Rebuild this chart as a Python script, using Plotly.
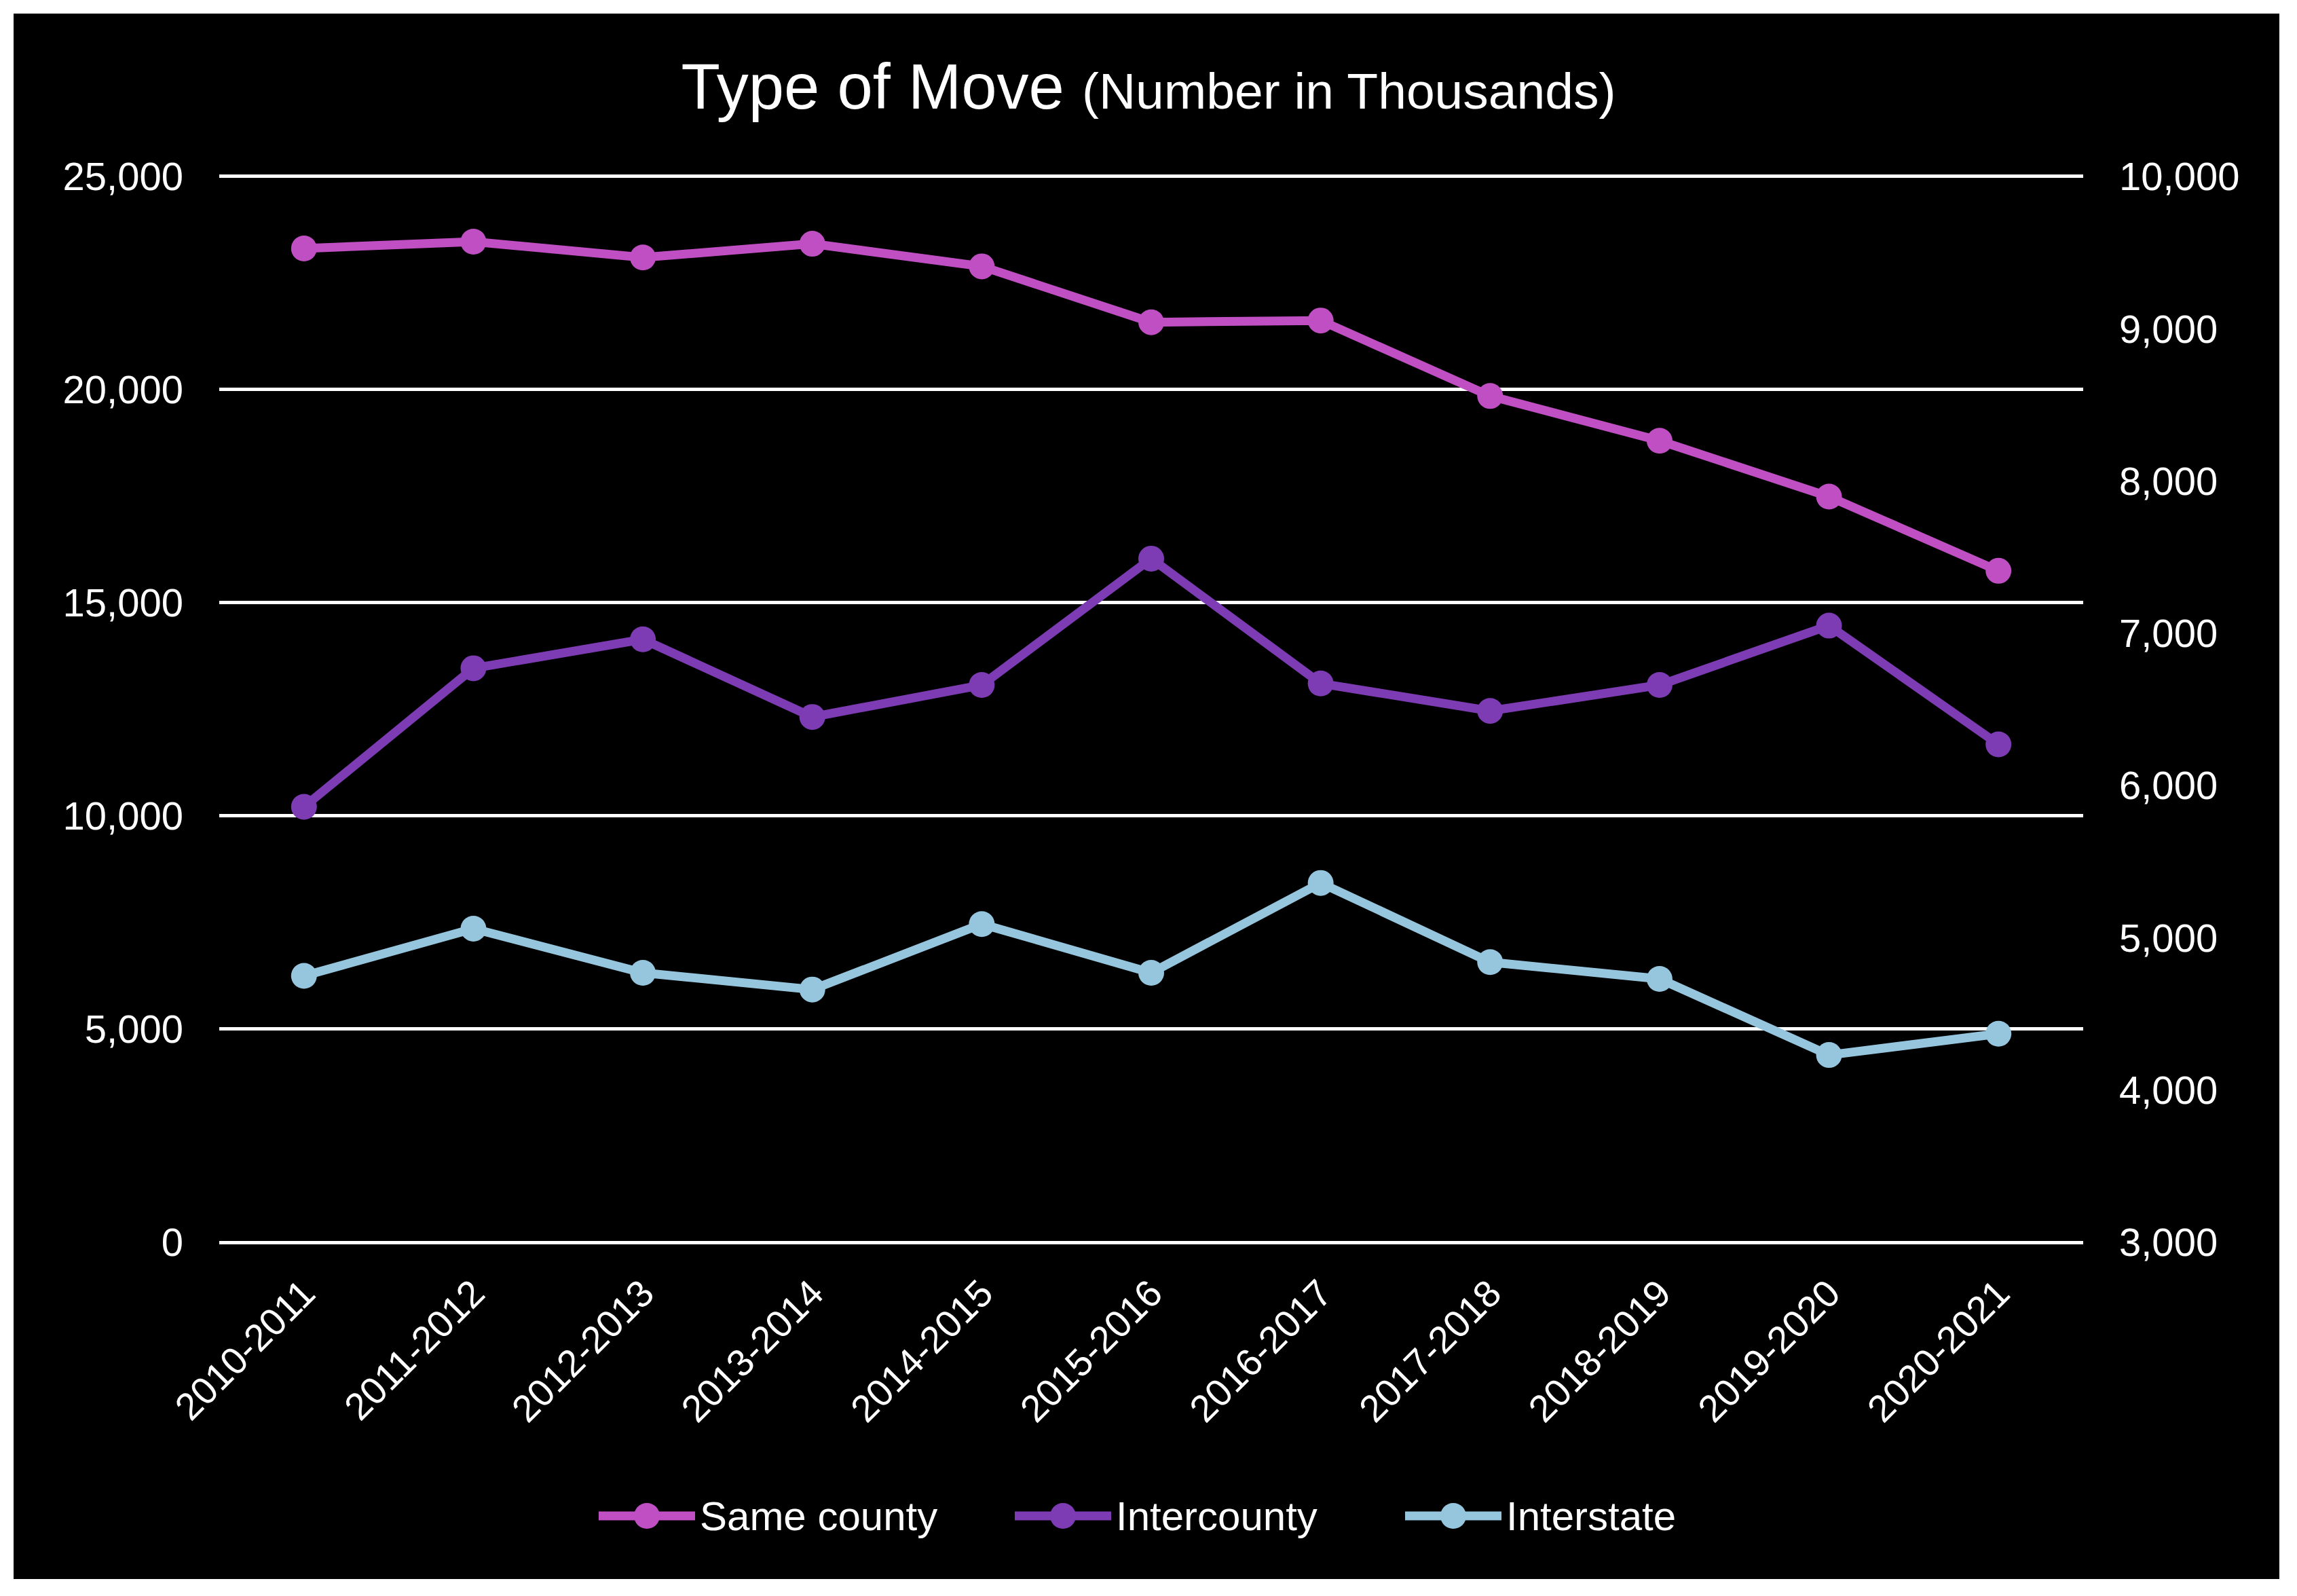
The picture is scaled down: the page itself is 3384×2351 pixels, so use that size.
import plotly.graph_objects as go

# ---- data (values in thousands) ----
categories = ["2010-2011", "2011-2012", "2012-2013", "2013-2014", "2014-2015",
              "2015-2016", "2016-2017", "2017-2018", "2018-2019", "2019-2020", "2020-2021"]
same_county = [23310, 23470, 23100, 23420, 22890, 21580, 21620, 19850, 18800, 17490, 15750]
intercounty = [5860, 6770, 6960, 6450, 6660, 7490, 6670, 6490, 6660, 7050, 6270]
interstate = [4750, 5060, 4770, 4660, 5090, 4770, 5360, 4840, 4730, 4230, 4370]
series_names = ["Same county", "Intercounty", "Interstate"]
left_ticks = [0, 5000, 10000, 15000, 20000, 25000]
right_ticks = [3000, 4000, 5000, 6000, 7000, 8000, 9000, 10000]

colors = ["#C04FC4", "#7D3BB4", "#96C6DE"]
FONT = "Liberation Sans"

W, H = 3384, 2351
ML, MR, MT, MB = 323, 315, 258, 521
PW, PH = W - ML - MR, H - MT - MB

# small headroom so the top gridline (25,000 / 10,000) is drawn
HEAD = 1.0012
left_range = [0, 25000 * HEAD]
right_range = [3000, 3000 + 7000 * HEAD]


def px_to_paper_x(px):
    return (px - ML) / PW


def px_to_paper_y(py):
    return 1 - (py - MT) / PH


fig = go.Figure()
for name, vals, col, ax in zip(series_names, [same_county, intercounty, interstate],
                               colors, ["y", "y2", "y2"]):
    fig.add_trace(go.Scatter(
        x=categories, y=vals, name=name, yaxis=ax, mode="lines+markers",
        line=dict(color=col, width=13),
        marker=dict(color=col, size=38, line=dict(width=0)),
        showlegend=False, cliponaxis=False,
    ))

shapes = [dict(type="rect", xref="paper", yref="paper",
               x0=px_to_paper_x(20), x1=px_to_paper_x(3358),
               y0=px_to_paper_y(2326), y1=px_to_paper_y(20),
               fillcolor="black", line=dict(width=0), layer="below")]

annotations = []
# custom legend (large keys like the original)
legend_text_left = [1029, 1642, 2217]
legend_y = px_to_paper_y(2233)
for name, col, tl in zip(series_names, colors, legend_text_left):
    cx = px_to_paper_x(tl - 76)
    shapes.append(dict(type="line", xref="paper", yref="paper",
                       xsizemode="pixel", ysizemode="pixel", xanchor=cx, yanchor=legend_y,
                       x0=-71, x1=71, y0=0, y1=0, line=dict(color=col, width=13)))
    shapes.append(dict(type="circle", xref="paper", yref="paper",
                       xsizemode="pixel", ysizemode="pixel", xanchor=cx, yanchor=legend_y,
                       x0=-19, x1=19, y0=-19, y1=19, fillcolor=col, line=dict(width=0)))
    annotations.append(dict(text=name, xref="paper", yref="paper", x=px_to_paper_x(tl),
                            y=legend_y, xanchor="left", yanchor="middle", showarrow=False,
                            font=dict(family=FONT, size=60, color="white")))

fig.update_layout(
    width=W, height=H,
    margin=dict(l=ML, r=MR, t=MT, b=MB, pad=0),
    paper_bgcolor="white", plot_bgcolor="rgba(0,0,0,0)",
    font=dict(family=FONT, color="white"),
    title=dict(
        text="Type of Move <span style='font-size:75px'>(Number in Thousands)</span>",
        x=0.5, xanchor="center", xref="container",
        y=1 - 127 / H, yanchor="middle", yref="container",
        font=dict(family=FONT, size=94, color="white"),
    ),
    xaxis=dict(type="category", range=[-0.5, 10.5], showgrid=False, showline=False,
               zeroline=False, tickangle=-45, ticks="",
               tickfont=dict(family=FONT, size=56, color="white"),
               ticklabelstandoff=30),
    yaxis=dict(range=left_range, tickvals=left_ticks, tickformat=",",
               showgrid=True, gridcolor="white", gridwidth=5,
               zeroline=True, zerolinecolor="white", zerolinewidth=5,
               showline=False, ticks="",
               tickfont=dict(family=FONT, size=58, color="white"),
               ticklabelstandoff=52),
    yaxis2=dict(range=right_range, tickvals=right_ticks, tickformat=",",
                overlaying="y", side="right", showgrid=False, zeroline=False,
                showline=False, ticks="",
                tickfont=dict(family=FONT, size=58, color="white"),
                ticklabelstandoff=52),
    shapes=shapes,
    annotations=annotations,
    showlegend=False,
)

fig.write_html("out.html", config={"displayModeBar": False},
               post_script="document.body.style.margin='0';")
